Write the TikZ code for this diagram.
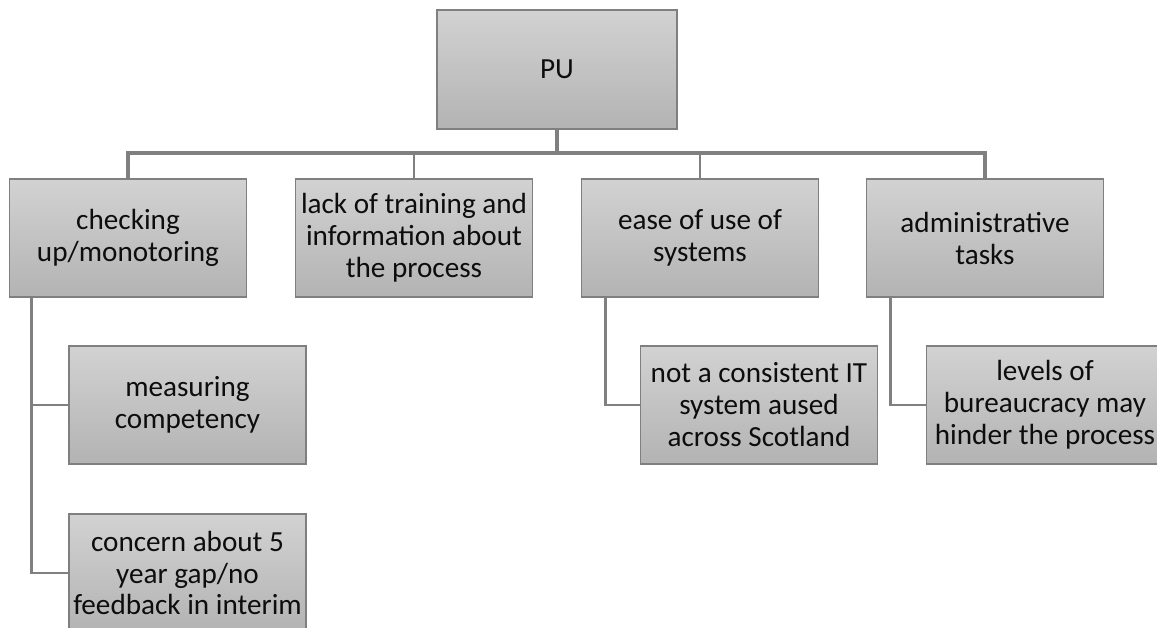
\documentclass[tikz,border=0pt]{standalone}
\usepackage{fontspec}
\setmainfont{Carlito}
\usepackage{xcolor}
\usepackage{tikz}
\usetikzlibrary{positioning}

\definecolor{boxtop}{HTML}{D2D2D2}
\definecolor{boxbot}{HTML}{B3B3B3}
\definecolor{boxline}{HTML}{7F7F7F}
\definecolor{linkgray}{HTML}{808080}

\begin{document}
\begin{tikzpicture}[
      x=0.02cm, y=-0.02cm,
      box/.style={draw=boxline, line width=0.8pt, top color=boxtop, bottom color=boxbot, minimum width=4.74cm, minimum height=2.36cm, inner sep=1pt, align=center, text=black!95, font=\fontsize{16.6}{18.2}\selectfont},
      bus/.style={draw=linkgray, line width=2.3pt},
      link/.style={draw=linkgray, line width=1.7pt}
    ]
        \clip (0,0) rectangle (1157,628);

        \node[box, minimum width=4.8cm, minimum height=2.38cm] (pu) at (557,69.5) {PU};

        \node[box] (checking) at (128,238) {checking\\up/monotoring};
        \node[box] (lack) at (414,238) {lack of training and\\information about\\the process};
        \node[box] (ease) at (700,238) {ease of use of\\systems};
        \node[box] (admin) at (985,238) {administrative\\tasks};

        \node[box] (meas) at (187.5,405) {measuring\\competency};
        \node[box] (concern) at (187.5,573) {concern about 5\\year gap/no\\feedback in interim};
        \node[box] (itsys) at (759,405) {not a consistent IT\\system aused\\across Scotland};
        \node[box] (bureau) at (1045,405) {levels of\\bureaucracy may\\hinder the process};

        \coordinate (junction) at (557,153);

        \draw[bus] (pu.south) -- (junction);
        \draw[bus] (checking.north) |- (junction) -| (admin.north);
        \draw[link] (lack.north) -- (lack.north |- junction);
        \draw[link] (ease.north) -- (ease.north |- junction);

        \draw[link] ([xshift=0.46cm]checking.south west) |- (meas.west);
        \draw[link] ([xshift=0.46cm]checking.south west) |- (concern.west);
        \draw[link] ([xshift=0.5cm]ease.south west) |- (itsys.west);
        \draw[link] ([xshift=0.5cm]admin.south west) |- (bureau.west);
    \end{tikzpicture}
\end{document}
